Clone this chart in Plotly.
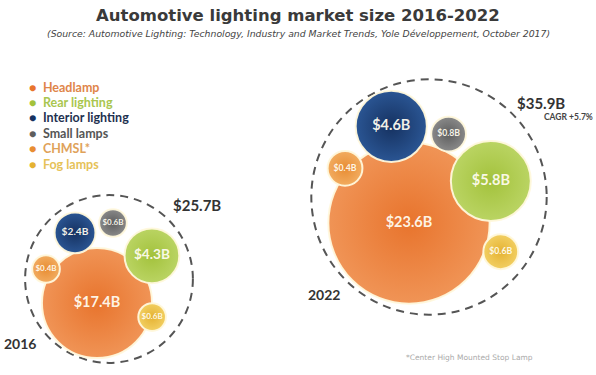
import math
import plotly.graph_objects as go

# ---------------- data ----------------
segments = ["Headlamp", "Rear lighting", "Interior lighting", "Small lamps", "CHMSL*", "Fog lamps"]
years = ["2016", "2022"]
values_2016 = [17.4, 4.3, 2.4, 0.6, 0.4, 0.6]
values_2022 = [23.6, 5.8, 4.6, 0.8, 0.4, 0.6]
totals = [25.7, 35.9]
cagr_pct = 5.7

# ---------------- styles ----------------
fill_colors = {  # (centre, edge) of radial gradient
    "Headlamp": ("#F09456", "#E8742D"),
    "Rear lighting": ("#BAD463", "#A3C23C"),
    "Interior lighting": ("#2A5593", "#163261"),
    "Small lamps": ("#8A8A8A", "#5E5E5E"),
    "CHMSL*": ("#F2AC60", "#E88D33"),
    "Fog lamps": ("#F2CF62", "#E5B232"),
}
legend_text_colors = {
    "Headlamp": "#E0854A",
    "Rear lighting": "#A9C64F",
    "Interior lighting": "#1E3150",
    "Small lamps": "#555555",
    "CHMSL*": "#E0A25A",
    "Fog lamps": "#E6C258",
}

# ---------------- layout of the bubble clusters (pixel space) ----------------
# Each satellite bubble is placed around the headlamp bubble at an angle (deg, ccw)
# with a gap (negative = overlap) relative to tangency.
panels = {
    "2016": dict(head=(97, 303), k=13.2, ring=(109, 279), pad=2,
                 place={"Rear lighting": (40.7, -10), "Interior lighting": (107.4, -2),
                        "Small lamps": (78.7, 12.7), "CHMSL*": (146.3, -7.6),
                        "Fog lamps": (-14.3, -12)},
                 year_xy=(2, 343), total_xy=(197, 205)),
    "2022": dict(head=(409, 223), k=16.6, ring=(429, 197), pad=2,
                 place={"Rear lighting": (27.2, -28.6), "Interior lighting": (100.4, -18),
                        "Small lamps": (66, -0.7), "CHMSL*": (139.5, -13.9),
                        "Fog lamps": (-17.4, -1.9)},
                 year_xy=(306, 294), total_xy=(541, 103)),
}
MIN_VALUE_FOR_SIZE = 1.1  # small bubbles get a minimum size so labels fit
LEGEND_TOP, LEGEND_STEP, LEGEND_X = 87, 15.4, 27

values_by_year = {"2016": values_2016, "2022": values_2022}


def radius(v, k):
    return k * math.sqrt(max(v, MIN_VALUE_FOR_SIZE))


geom = {}  # (year, segment) -> (x, y, r)
for yr in years:
    p = panels[yr]
    vals = values_by_year[yr]
    hx, hy = p["head"]
    R = radius(vals[0], p["k"])
    geom[(yr, segments[0])] = (hx, hy, R)
    for seg, v in zip(segments[1:], vals[1:]):
        r = radius(v, p["k"])
        ang, gap = p["place"][seg]
        d = R + r + gap
        a = math.radians(ang)
        geom[(yr, seg)] = (hx + d * math.cos(a), hy - d * math.sin(a), r)

fig = go.Figure()

# dashed enclosing rings
for yr in years:
    p = panels[yr]
    cx, cy = p["ring"]
    rr = max(math.hypot(geom[(yr, s)][0] - cx, geom[(yr, s)][1] - cy) + geom[(yr, s)][2]
             for s in segments) + p["pad"]
    fig.add_shape(type="circle", xref="x", yref="y", x0=cx - rr, x1=cx + rr,
                  y0=cy - rr, y1=cy + rr, line=dict(color="#555555", width=2, dash="8px,6px"),
                  layer="below")

# bubbles: one trace per segment (both years)
for i, seg in enumerate(segments):
    xs = [geom[(yr, seg)][0] for yr in years]
    ys = [geom[(yr, seg)][1] for yr in years]
    ds = [2 * geom[(yr, seg)][2] for yr in years]
    c0, c1 = fill_colors[seg]
    fig.add_trace(go.Scatter(
        x=xs, y=ys, mode="markers", showlegend=False, hoverinfo="skip", name=seg,
        marker=dict(size=ds, sizemode="diameter", color=c0,
                    gradient=dict(type="radial", color=c1),
                    line=dict(color="rgba(255,248,220,0.95)", width=2), opacity=1),
    ))

# value labels inside bubbles
lx, ly, lt, ls = [], [], [], []
for yr in years:
    for seg, v in zip(segments, values_by_year[yr]):
        x, y, r = geom[(yr, seg)]
        lx.append(x)
        ly.append(y)
        lt.append(f"${v}B")
        ls.append(max(8, min(14.5, 0.5 * r)))
fig.add_trace(go.Scatter(
    x=lx, y=ly, text=lt, mode="text", showlegend=False, hoverinfo="skip",
    textposition="middle center",
    textfont=dict(family="Lato", size=ls, color="rgba(255,252,240,0.95)", weight="bold"),
))

annotations = [
    dict(x=298, y=15, text="<b>Automotive lighting market size 2016-2022</b>",
         font=dict(family="DejaVu Sans", size=16.5, color="#3A3A3A")),
    dict(x=298, y=33,
         text="<i>(Source: Automotive Lighting: Technology, Industry and Market Trends, Yole Développement, October 2017)</i>",
         font=dict(family="DejaVu Sans", size=9.3, color="#444444")),
]
# legend (coloured dot + coloured bold text)
for i, seg in enumerate(segments):
    annotations.append(dict(
        x=LEGEND_X, y=LEGEND_TOP + i * LEGEND_STEP, xanchor="left",
        text=f"<span style='color:{fill_colors[seg][1]}'>●</span>  "
             f"<span style='color:{legend_text_colors[seg]}'><b>{seg}</b></span>",
        font=dict(family="Lato", size=12.5)))
for yr, tot in zip(years, totals):
    p = panels[yr]
    annotations.append(dict(x=p["year_xy"][0], y=p["year_xy"][1], text=f"<b>{yr}</b>",
                            xanchor="left", font=dict(family="Lato", size=14, color="#333333")))
    annotations.append(dict(x=p["total_xy"][0], y=p["total_xy"][1], text=f"<b>${tot}B</b>",
                            font=dict(family="Lato", size=15, color="#333333")))
annotations.append(dict(x=595, y=117, text=f"<b>CAGR +{cagr_pct}%</b>", xanchor="right",
                        font=dict(family="Lato", size=8.5, color="#444444")))
annotations.append(dict(x=404, y=357, text="*Center High Mounted Stop Lamp", xanchor="left",
                        font=dict(family="DejaVu Sans", size=7.5, color="#AAAAAA")))
for a in annotations:
    a.update(xref="x", yref="y", showarrow=False)
    a.setdefault("xanchor", "center")
    a.setdefault("yanchor", "middle")

fig.update_layout(
    width=596, height=375, margin=dict(l=0, r=0, t=0, b=0),
    paper_bgcolor="white", plot_bgcolor="white",
    xaxis=dict(range=[0, 596], visible=False, fixedrange=True),
    yaxis=dict(range=[375, 0], visible=False, fixedrange=True),
    annotations=annotations,
    showlegend=False,
)

fig.write_html("out.html", config={"displayModeBar": False},
               post_script="document.body.style.margin='0';document.body.style.overflow='hidden';")
